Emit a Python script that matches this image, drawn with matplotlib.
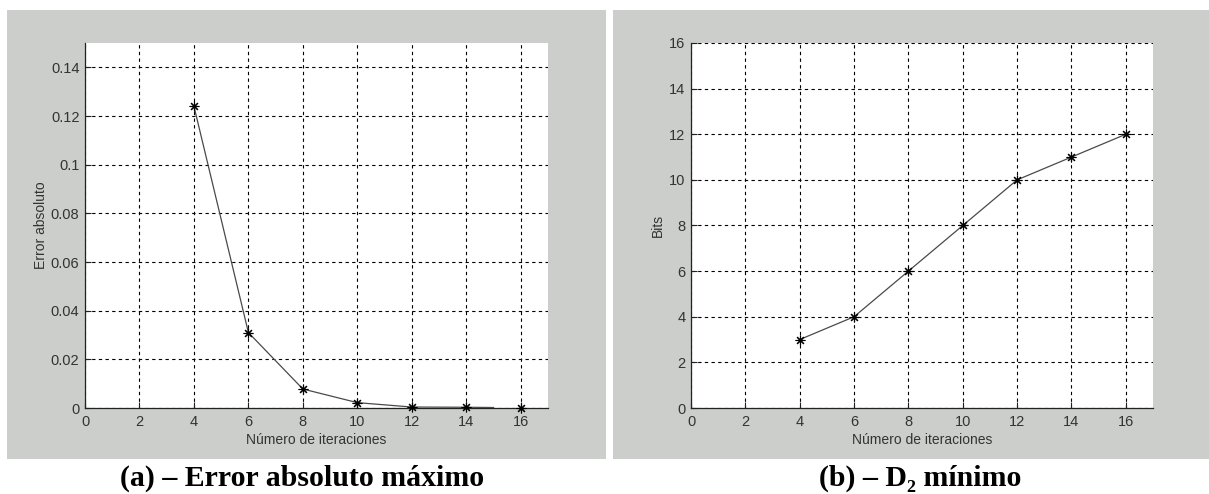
import matplotlib
matplotlib.use("Agg")
import matplotlib.pyplot as plt
from matplotlib.patches import Rectangle

# (a) error absoluto maximo
iter_a_line = [4, 6, 8, 10, 12, 14, 15]
error_line = [0.124, 0.031, 0.0078, 0.0022, 0.0004, 0.0003, 0.0002]
iter_a_marks = [4, 6, 8, 10, 12, 14, 16]
error_marks = [0.124, 0.031, 0.0078, 0.0022, 0.0004, 0.0003, 0.0]

# (b) D2 minimo
iter_b = [4, 6, 8, 10, 12, 14, 16]
bits = [3, 4, 6, 8, 10, 11, 12]

xticks = [0, 2, 4, 6, 8, 10, 12, 14, 16]
yticks_a = [0, 0.02, 0.04, 0.06, 0.08, 0.1, 0.12, 0.14]
yticks_a_labels = ["0", "0.02", "0.04", "0.06", "0.08", "0.1", "0.12", "0.14"]
yticks_b = [0, 2, 4, 6, 8, 10, 12, 14, 16]

W, H = 1209, 494
PANEL_GREY = "#cbcecb"
TEXT = "#333333"
SANS = ["Liberation Sans", "DejaVu Sans"]
ASTERISK = (8, 2, 0)

fig = plt.figure(figsize=(W / 100, H / 100), dpi=100)
fig.patch.set_facecolor("white")

for x0, x1 in [(7, 606), (613, 1209)]:
    fig.patches.append(Rectangle((x0 / W, 1 - 459 / H), (x1 - x0) / W, (459 - 10) / H,
                                 transform=fig.transFigure, facecolor=PANEL_GREY,
                                 edgecolor="none", zorder=-5))


def style_axes(ax):
    ax.set_zorder(2)
    ax.set_facecolor("white")
    ax.set_xlim(0, 17)
    ax.set_xticks(xticks)
    ax.grid(True, color="black", linestyle=(0, (3, 3)), linewidth=0.8)
    ax.set_axisbelow(True)
    for side in ("top", "right"):
        ax.spines[side].set_visible(False)
    for side in ("left", "bottom"):
        ax.spines[side].set_linewidth(0.9)
        ax.spines[side].set_color("#222222")
    ax.tick_params(direction="in", length=4, width=0.8, colors="#222222",
                   labelcolor=TEXT, labelsize=10.5)
    ax.tick_params(axis="x", pad=5)
    ax.tick_params(axis="y", pad=4)
    for lab in ax.get_xticklabels() + ax.get_yticklabels():
        lab.set_family(SANS)
    ax.set_xlabel("Número de iteraciones", fontsize=10, color=TEXT,
                  family=SANS, labelpad=3)


ax_a = fig.add_axes([85 / W, 1 - 408 / H, (548 - 85) / W, (408 - 43) / H])
ax_a.plot(iter_a_line, error_line, color="#4a4a4a", linewidth=0.9, zorder=3)
ax_a.plot(iter_a_marks, error_marks, linestyle="none", marker=ASTERISK,
          markersize=7, color="black", markeredgewidth=0.8, zorder=4, clip_on=False)
ax_a.set_ylim(0, 0.15)
ax_a.set_yticks(yticks_a)
ax_a.set_yticklabels(yticks_a_labels)
style_axes(ax_a)
ax_a.set_ylabel("Error absoluto", fontsize=10, color=TEXT, family=SANS, labelpad=2)

ax_b = fig.add_axes([691 / W, 1 - 408 / H, (1153 - 691) / W, (408 - 43) / H])
ax_b.plot(iter_b, bits, color="#4a4a4a", linewidth=0.9, marker=ASTERISK,
          markersize=7, markeredgecolor="black", markerfacecolor="black",
          markeredgewidth=0.8, zorder=3)
ax_b.set_ylim(0, 16)
ax_b.set_yticks(yticks_b)
style_axes(ax_b)
ax_b.set_ylabel("Bits", fontsize=10, color=TEXT, family=SANS, labelpad=3)

fig.text(302 / W, 1 - 478 / H, "(a) – Error absoluto máximo", ha="center", va="center",
         fontsize=21.5, fontweight="bold", family="Liberation Serif")
fig.text(920 / W, 1 - 478 / H, "(b) – D₂ mínimo", ha="center", va="center",
         fontsize=21.5, fontweight="bold", family="Liberation Serif")

fig.savefig("out.png", dpi=100)
